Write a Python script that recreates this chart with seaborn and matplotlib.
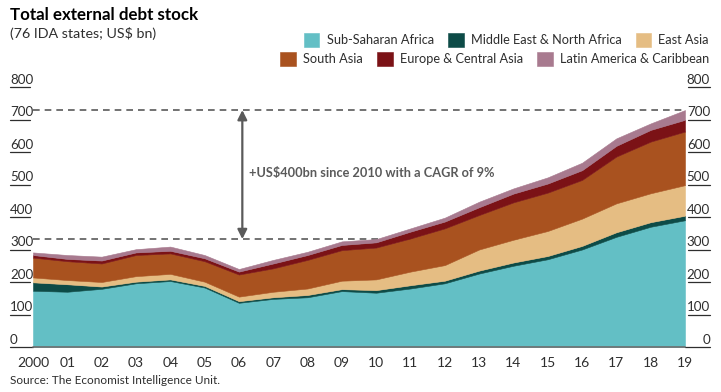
import numpy as np
import pandas as pd
import matplotlib
matplotlib.use('Agg')
import matplotlib.pyplot as plt
import matplotlib.transforms as mtransforms
import seaborn as sns

years = list(range(2000, 2020))
year_labels = ['2000'] + [f'{y % 100:02d}' for y in years[1:]]

ssa = [173, 170, 179, 196, 203, 183, 136, 148, 153, 172, 167, 180, 196, 226, 250, 270, 300, 339, 370, 390]
mena = [26, 23, 7, 5, 5, 5, 5, 5, 7, 6, 8, 10, 8, 9, 10, 10, 11, 14, 14, 14]
east_asia = [15, 13, 14, 17, 17, 13, 14, 17, 20, 26, 33, 42, 48, 65, 70, 77, 84, 89, 89, 94]
south_asia = [61, 58, 57, 65, 63, 63, 68, 72, 88, 94, 98, 102, 113, 106, 115, 118, 119, 144, 159, 165]
europe = [8, 7, 9, 8, 8, 9, 9, 15, 15, 16, 16, 21, 21, 24, 27, 28, 30, 33, 36, 36]
latam = [8, 12, 12, 10, 13, 10, 8, 11, 10, 11, 10, 10, 12, 17, 16, 19, 23, 23, 20, 30]

regions = ['Sub-Saharan Africa', 'Middle East & North Africa', 'East Asia',
           'South Asia', 'Europe & Central Asia', 'Latin America & Caribbean']
colors = ['#63bfc5', '#0d4b47', '#e5bd83', '#a9521f', '#7b1216', '#a87a8f']

y_ticks = [0, 100, 200, 300, 400, 500, 600, 700, 800]

df = pd.DataFrame(dict(zip(regions, [ssa, mena, east_asia, south_asia, europe, latam])), index=years)
totals = df.sum(axis=1)

sns.set_theme(style='white')
plt.rcParams['font.family'] = ['Lato', 'DejaVu Sans']
text_col = '#2e2e2e'

W, H = 721, 392
fig = plt.figure(figsize=(W / 100, H / 100), dpi=100)
ax = fig.add_axes([33 / W, 45 / H, 652 / W, 260 / H])

polys = ax.stackplot(years, [df[c] for c in regions], colors=colors, labels=regions,
                     lw=0.4, zorder=2)
for p, c in zip(polys, colors):
    p.set_edgecolor(c)

ax.set_xlim(2000, 2019)
ax.set_ylim(0, 800)
for s in ax.spines.values():
    s.set_visible(False)
ax.axhline(0, color='#6e6e6e', lw=1.2, zorder=3, clip_on=False)

ax.set_xticks(years, year_labels)
ax.tick_params(axis='x', length=0, pad=7, labelsize=10, labelcolor=text_col)
ax.set_yticks([])

# underlined y labels on both sides
blend = mtransforms.blended_transform_factory(fig.transFigure, ax.transData)
for v in y_ticks:
    ax.text(10 / W, v + 4, str(v), transform=blend, ha='left', va='bottom',
            fontsize=9.6, color=text_col)
    ax.plot([10 / W, (33 if v == 0 else 30) / W], [v, v], transform=blend,
            color=text_col, lw=0.9, clip_on=False)
    ax.text(710 / W, v + 4, str(v), transform=blend, ha='right', va='bottom',
            fontsize=9.6, color=text_col)
    ax.plot([(685 if v == 0 else 688) / W, 710 / W], [v, v], transform=blend,
            color=text_col, lw=0.9, clip_on=False)

# growth since 2010
t0, t1 = totals[2010], totals[2019]
for t in (t0, t1):
    ax.axhline(t, color='#5a5a5a', lw=1.2, ls=(0, (4, 3)), zorder=1)
ax.annotate('', xy=(2006.1, t1), xytext=(2006.1, t0),
            arrowprops=dict(arrowstyle='<|-|>', color='#5a5a5a', lw=1.6,
                            mutation_scale=14, shrinkA=0, shrinkB=0))
ax.text(2006.3, (t0 + t1) / 2 + 5, '+US$400bn since 2010 with a CAGR of 9%',
        fontsize=9.2, fontweight='bold', color='#5a5a5a', va='center', ha='left')

fig.text(10 / W, 1 - 20 / H, 'Total external debt stock', fontsize=12.2,
         fontweight='bold', color='black', va='baseline')
fig.text(10 / W, 1 - 38 / H, '(76 IDA states; US$ bn)', fontsize=10.3,
         color=text_col, va='baseline')
fig.text(10 / W, 1 - 384 / H, 'Source: The Economist Intelligence Unit.', fontsize=8.5,
         color=text_col, va='baseline')

leg_kw = dict(ncol=3, loc='center right', frameon=False, fontsize=9.2,
              handlelength=1.2, handleheight=1.2, handletextpad=0.55,
              columnspacing=1.15, borderpad=0, borderaxespad=0,
              labelcolor=text_col)
fig.legend(polys[:3], regions[:3], bbox_to_anchor=(709 / W, 1 - 40 / H), **leg_kw)
fig.legend(polys[3:], regions[3:], bbox_to_anchor=(709 / W, 1 - 59 / H), **leg_kw)

plt.savefig('out.png', dpi=100)
